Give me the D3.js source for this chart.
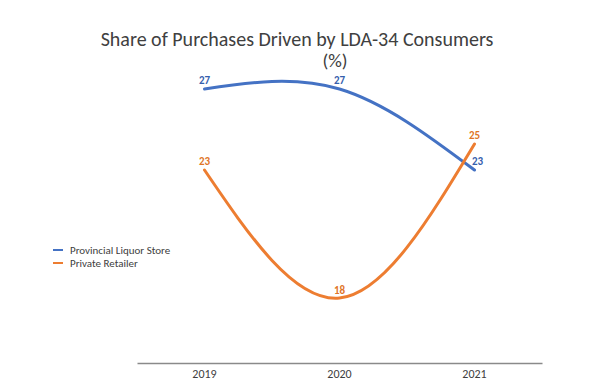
<!DOCTYPE html>
<html>
<head>
<meta charset="utf-8">
<script src="https://cdn.jsdelivr.net/npm/d3@7"></script>
<style>
  body { margin: 0; background: #fff; }
  svg text { font-family: Calibri, "Open Sans", "Liberation Sans", sans-serif; }
</style>
</head>
<body>
<div class="canvas"></div>
<script>
// data
const years = ['2019', '2020', '2021'];
const seriesNames = ['Provincial Liquor Store', 'Private Retailer'];
const provincial = [27, 27, 23];
const privateRetail = [23, 18, 25];
const colors = ['#4472C4', '#ED7D31'];
const labelColors = ['#3560ad', '#e07528'];

// the picture has no y axis, value positions read off the chart
const yStops = [18, 23, 25, 27];

const W = 600, H = 386;

var svg = d3.select('.canvas').append('svg')
  .attr('width', W)
  .attr('height', H);

// x: category bands on the axis line
var x = d3.scaleBand()
  .domain(years)
  .range([137, 542]);

var y = d3.scaleLinear()
  .domain(yStops)
  .range([298, 170, 144, 89]);

// title
svg.append('text')
  .attr('x', 297).attr('y', 46)
  .attr('text-anchor', 'middle')
  .style('font-size', '20px')
  .style('fill', '#404040')
  .text('Share of Purchases Driven by LDA-34 Consumers');
svg.append('text')
  .attr('x', 335).attr('y', 67)
  .attr('text-anchor', 'middle')
  .style('font-size', '19px')
  .style('fill', '#404040')
  .text('(%)');

// axis
var xAxis = svg.append('g')
  .attr('transform', 'translate(0,363)')
  .call(d3.axisBottom(x).tickSize(0).tickPadding(6));
xAxis.select('.domain').attr('stroke', '#8a8a8a').attr('stroke-width', 1.5);
xAxis.selectAll('text')
  .style('font-size', '12px')
  .style('fill', '#404040')
  .style('font-family', 'Calibri, "Open Sans", "Liberation Sans", sans-serif');

var series = [provincial, privateRetail];
var cx = (d, i) => x(years[i]) + x.bandwidth() / 2;

var line = d3.line()
  .x(cx)
  .y(d => y(d))
  .curve(d3.curveNatural);

series.forEach(function(vals, s) {
  svg.append('path')
    .datum(vals)
    .attr('d', line)
    .attr('fill', 'none')
    .attr('stroke', colors[s])
    .attr('stroke-width', 3)
    .attr('stroke-linecap', 'round');

  svg.append('g').selectAll('text')
    .data(vals)
    .enter()
    .append('text')
    .attr('x', (d, i) => cx(d, i) + (s === 0 && i === 2 ? 3 : 0))
    .attr('y', (d, i) => y(d) - (s === 1 && i === 1 ? 4 : 5))
    .attr('text-anchor', 'middle')
    .style('font-size', '11px')
    .style('font-weight', 'bold')
    .style('fill', labelColors[s])
    .text(d => d);
});

// legend
var legend = svg.append('g')
  .selectAll('g')
  .data(seriesNames)
  .enter()
  .append('g')
  .attr('transform', (d, i) => `translate(53,${250 + i * 13})`);
legend.append('line')
  .attr('x1', 0).attr('x2', 10)
  .attr('stroke', (d, i) => colors[i])
  .attr('stroke-width', 2);
legend.append('text')
  .attr('x', 17).attr('y', 4)
  .style('font-size', '11px')
  .style('fill', '#404040')
  .text(d => d);
</script>
</body>
</html>
